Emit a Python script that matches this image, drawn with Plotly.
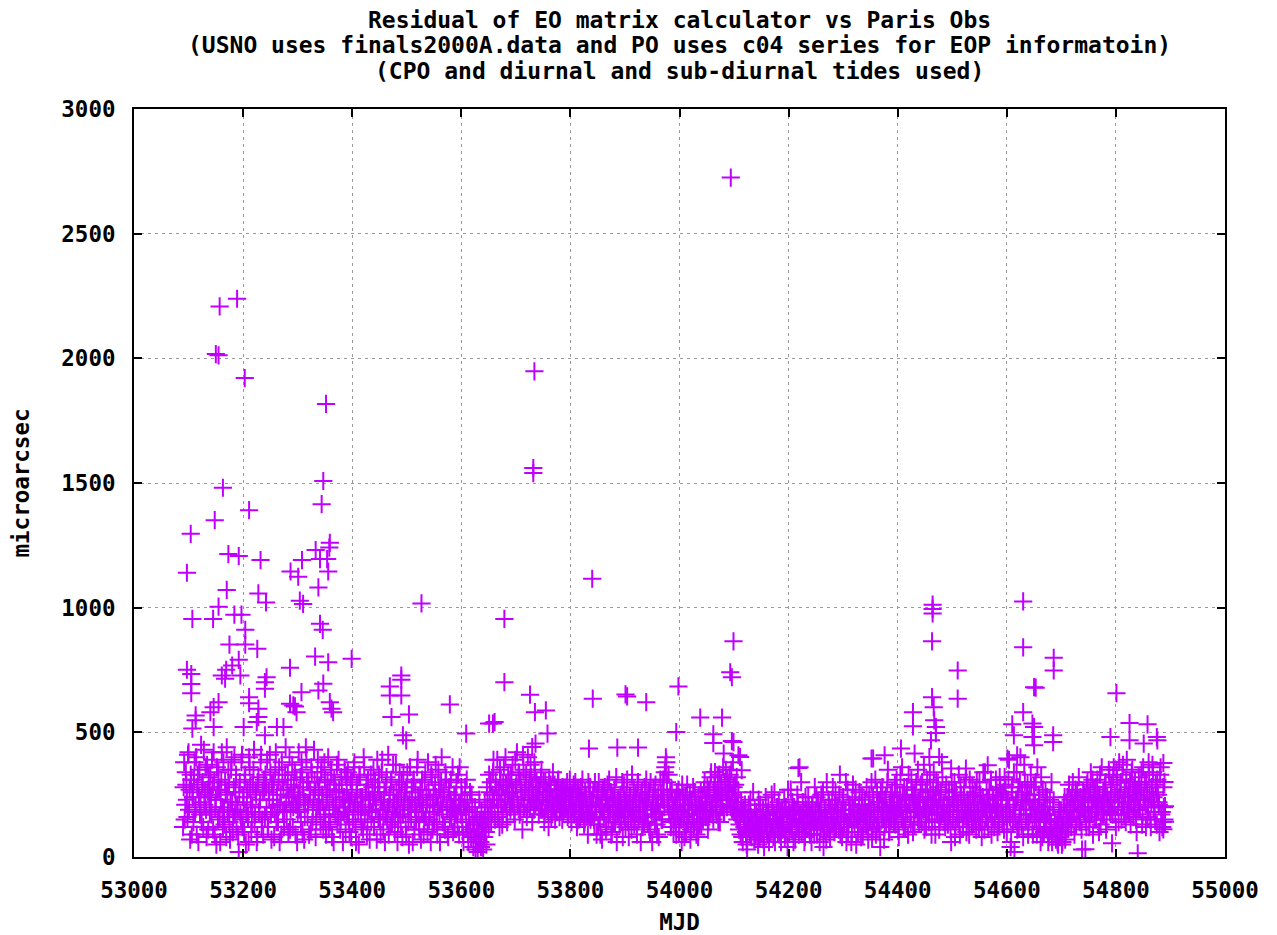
import plotly.graph_objects as go

# ---- data -----------------------------------------------------------------
title_lines = [
    "Residual of EO matrix calculator vs Paris Obs",
    "(USNO uses finals2000A.data and PO uses c04 series for EOP informatoin)",
    "(CPO and diurnal and sub-diurnal tides used)",
]
x_label = "MJD"
y_label = "microarcsec"
x_ticks = [53000, 53200, 53400, 53600, 53800, 54000, 54200, 54400, 54600, 54800, 55000]
y_ticks = [0, 500, 1000, 1500, 2000, 2500, 3000]

# bulk of the residuals, even days starting at MJD 53090
band_even_start = 53090
band_even = [
    120, 380, 210, 290, 160, 420, 270, 330, 90, 240, 310, 180, 400, 280, 60, 350, 220, 140, 300, 430, 260, 190, 370, 110, 250,
    330, 170, 280, 420, 90, 230, 360, 150, 270, 60, 310, 200, 380, 130, 250, 440, 180, 290, 70, 350, 220, 160, 400, 260, 110,
    190, 20, 300, 150, 410, 240, 100, 330, 180, 270, 60, 360, 210, 140, 290, 430, 170, 250, 80, 320, 200, 380, 120, 260, 310,
    160, 280, 390, 120, 230, 340, 70, 200, 300, 180, 420, 250, 140, 360, 210, 90, 310, 270, 190, 440, 150, 330, 240, 110, 290,
    370, 200, 260, 90, 310, 180, 420, 240, 140, 350, 280, 70, 220, 390, 160, 300, 250, 110, 340, 190, 430, 270, 150, 320, 210,
    280, 130, 360, 220, 170, 310, 90, 250, 400, 190, 140, 330, 240, 60, 290, 210, 370, 160, 270, 110, 320, 230, 180, 350, 100,
    260, 340, 150, 220, 80, 300, 190, 380, 130, 270, 210, 50, 320, 170, 240, 110, 360, 200, 290, 140, 250, 70, 330, 180, 230,
    120, 300, 210, 390, 160, 260, 90, 340, 190, 230, 60, 280, 150, 410, 220, 130, 310, 180, 250, 100, 370, 200, 140, 290, 170,
    240, 80, 330, 190, 120, 280, 210, 50, 360, 160, 230, 300, 110, 260, 180, 390, 140, 220, 70, 310, 200, 150, 340, 250, 100,
    270, 180, 60, 320, 210, 130, 290, 240, 90, 350, 170, 220, 400, 140, 260, 110, 310, 190, 80, 280, 230, 150, 360, 200, 120,
    250, 170, 330, 90, 210, 280, 140, 60, 230, 190, 310, 100, 150, 260, 80, 200, 40, 130, 30, 90, 20, 60, 150, 40, 110,
    30, 80, 170, 50, 210, 120, 260, 300, 180, 340, 230, 150, 280, 390, 200, 120, 310, 250, 170, 360, 220, 290, 140, 330, 260,
    190, 300, 370, 240, 150, 280, 420, 210, 330, 180, 260, 110, 350, 230, 290, 160, 400, 270, 200, 320, 140, 250, 380, 210, 300,
    230, 170, 280, 320, 190, 250, 140, 300, 210, 260, 120, 230, 290, 180, 340, 200, 150, 270, 220, 310, 160, 240, 200, 280, 190,
    250, 210, 300, 170, 230, 260, 140, 200, 290, 180, 240, 120, 270, 210, 160, 230, 310, 190, 140, 250, 200, 90, 170, 280, 220,
    180, 260, 130, 210, 90, 240, 300, 160, 200, 70, 270, 180, 230, 120, 290, 150, 210, 260, 100, 190, 240, 140, 320, 170, 220,
    130, 250, 190, 80, 280, 160, 220, 310, 140, 200, 240, 110, 180, 270, 150, 230, 90, 300, 210, 170, 250, 120, 200, 280, 160,
    220, 140, 260, 100, 190, 60, 240, 170, 290, 130, 210, 80, 180, 250, 150, 310, 200, 360, 380, 240, 330, 170, 120, 270, 190,
    150, 230, 90, 200, 270, 130, 180, 60, 250, 160, 210, 100, 290, 140, 190, 70, 230, 170, 120, 260, 200, 150, 80, 210, 180,
    130, 240, 190, 300, 160, 220, 110, 270, 180, 340, 210, 150, 280, 230, 170, 320, 250, 140, 290, 200, 360, 180, 260, 230, 310,
    270, 330, 200, 250, 380, 180, 290, 220, 150, 260, 130, 90, 180, 60, 140, 210, 100, 30, 170, 120, 230, 80, 150, 110, 190,
    90, 160, 50, 130, 210, 100, 170, 70, 140, 240, 110, 180, 60, 150, 120, 200, 80, 260, 130, 170, 100, 220, 140, 60, 190,
    120, 230, 90, 160, 40, 190, 140, 270, 110, 180, 200, 70, 150, 250, 130, 360, 170, 100, 220, 140, 80, 190, 160, 240, 110,
    170, 60, 200, 130, 280, 150, 90, 220, 180, 110, 250, 140, 40, 190, 160, 300, 120, 210, 80, 170, 230, 140, 100, 260, 150,
    200, 110, 330, 160, 80, 240, 140, 190, 60, 270, 130, 210, 170, 100, 290, 150, 230, 50, 180, 120, 260, 140, 200, 90, 170,
    230, 130, 180, 70, 250, 150, 300, 110, 200, 170, 90, 260, 140, 220, 40, 190, 280, 160, 120, 240, 180, 350, 100, 210, 150,
    260, 170, 220, 130, 310, 190, 80, 240, 200, 360, 150, 280, 120, 230, 180, 330, 210, 140, 270, 100, 250, 190, 300, 160, 220,
    180, 290, 140, 240, 370, 200, 120, 310, 230, 170, 260, 90, 210, 340, 150, 250, 190, 280, 110, 230, 170, 320, 200, 140, 260,
    210, 130, 270, 170, 60, 240, 190, 300, 120, 220, 160, 330, 90, 250, 180, 140, 280, 200, 100, 230, 160, 310, 190, 130, 250,
    170, 260, 110, 220, 190, 300, 140, 80, 240, 200, 340, 160, 230, 120, 270, 180, 90, 250, 210, 150, 310, 190, 240, 130, 280,
    200, 140, 260, 320, 180, 100, 230, 390, 160, 60, 280, 210, 20, 150, 340, 240, 120, 300, 190, 260, 80, 370, 220, 170, 290,
    140, 250, 330, 190, 90, 280, 210, 160, 360, 120, 230, 60, 180, 270, 100, 200, 140, 240, 60, 170, 110, 300, 90, 220, 150,
    70, 130, 50, 190, 80, 110, 60, 160, 240, 100, 200, 140, 290, 180, 120, 250, 210, 90, 270, 160, 230, 320, 140, 200, 30,
    260, 180, 220, 120, 300, 240, 160, 340, 200, 90, 270, 230, 150, 310, 190, 250, 130, 360, 220, 170, 280, 110, 240, 200, 330,
    230, 290, 170, 360, 250, 120, 310, 200, 380, 270, 150, 330, 220, 260, 140, 390, 240, 180, 300, 210, 350, 160, 280, 230, 100,
    250, 320, 190, 270, 130, 360, 230, 210, 300, 160, 380, 250, 120, 280, 340, 200, 150, 260, 310, 220, 100, 360, 180, 140, 200,
]

# bulk of the residuals, odd days starting at MJD 53091
band_odd_start = 53091
band_odd = [
    280, 150, 340, 230, 410, 190, 70, 310, 260, 140, 380, 200, 90, 330, 240, 170, 450, 290, 120, 210, 360, 80, 270, 320, 180,
    240, 390, 110, 300, 200, 50, 270, 340, 160, 230, 420, 120, 190, 300, 80, 260, 350, 140, 220, 390, 100, 280, 170, 330, 210,
    90, 260, 170, 380, 120, 220, 310, 50, 240, 160, 400, 280, 100, 200, 350, 140, 260, 60, 300, 180, 230, 410, 150, 90, 270,
    330, 200, 120, 260, 410, 170, 290, 230, 80, 350, 140, 210, 300, 60, 250, 380, 180, 120, 330, 220, 270, 100, 400, 190, 240,
    120, 280, 340, 210, 60, 250, 190, 320, 380, 100, 230, 160, 440, 300, 210, 90, 270, 360, 140, 230, 300, 80, 200, 390, 260,
    190, 340, 250, 110, 380, 160, 230, 300, 120, 270, 350, 80, 200, 310, 170, 260, 130, 390, 220, 150, 290, 60, 240, 200, 320,
    170, 230, 100, 310, 250, 140, 360, 220, 60, 290, 180, 330, 240, 120, 200, 400, 150, 260, 90, 310, 190, 230, 140, 280, 350,
    240, 190, 70, 280, 330, 150, 220, 390, 110, 260, 170, 320, 200, 90, 250, 300, 140, 370, 210, 160, 270, 60, 230, 340, 120,
    300, 170, 220, 260, 90, 340, 140, 230, 190, 280, 60, 310, 200, 150, 360, 240, 110, 270, 180, 230, 90, 300, 160, 210, 380,
    150, 230, 330, 110, 250, 180, 370, 140, 200, 270, 60, 300, 190, 240, 120, 340, 210, 90, 260, 160, 310, 200, 100, 250, 180,
    300, 120, 210, 360, 170, 250, 90, 200, 280, 140, 220, 60, 180, 110, 250, 140, 90, 200, 70, 160, 110, 230, 60, 180, 130,
    150, 220, 100, 280, 160, 330, 200, 140, 250, 390, 180, 300, 230, 160, 270, 350, 210, 130, 290, 230, 400, 180, 250, 310, 200,
    330, 220, 260, 180, 390, 290, 230, 340, 170, 300, 240, 410, 200, 270, 330, 190, 250, 310, 370, 230, 280, 190, 340, 260, 220,
    280, 240, 190, 350, 220, 300, 170, 260, 230, 190, 310, 270, 160, 240, 210, 290, 250, 180, 300, 230, 200, 270, 150, 240, 260,
    200, 280, 160, 240, 310, 190, 250, 220, 170, 300, 210, 260, 150, 240, 280, 180, 220, 130, 260, 210, 170, 300, 240, 150, 200,
    240, 150, 300, 180, 260, 130, 210, 90, 250, 190, 160, 280, 110, 230, 200, 310, 170, 90, 240, 140, 270, 200, 60, 230, 180,
    210, 140, 300, 170, 230, 120, 260, 190, 80, 240, 160, 330, 200, 130, 250, 180, 290, 150, 220, 60, 260, 190, 140, 230, 310,
    170, 240, 110, 300, 160, 210, 270, 130, 200, 90, 250, 180, 310, 150, 230, 270, 340, 400, 300, 210, 180, 260, 140, 220, 100,
    200, 120, 260, 170, 100, 230, 150, 290, 190, 80, 240, 130, 210, 170, 250, 110, 190, 280, 140, 220, 90, 170, 240, 130, 260,
    210, 150, 270, 220, 190, 280, 140, 240, 320, 200, 170, 260, 300, 190, 250, 140, 330, 210, 270, 240, 180, 300, 350, 200, 280,
    230, 300, 350, 190, 280, 240, 170, 320, 200, 110, 160, 220, 80, 190, 120, 170, 50, 140, 210, 90, 160, 130, 260, 70, 140,
    180, 110, 230, 80, 150, 120, 190, 40, 130, 170, 90, 210, 140, 100, 250, 130, 170, 60, 150, 200, 120, 90, 180, 140, 110,
    160, 80, 200, 140, 270, 100, 170, 130, 220, 60, 150, 190, 120, 210, 90, 170, 300, 130, 180, 60, 240, 120, 150, 200, 90,
    130, 210, 150, 90, 180, 240, 120, 170, 60, 200, 140, 260, 110, 180, 70, 150, 230, 100, 190, 130, 280, 160, 210, 120, 180,
    150, 250, 90, 190, 220, 120, 170, 300, 140, 100, 210, 160, 60, 230, 190, 120, 270, 150, 100, 210, 170, 80, 240, 140, 190,
    160, 280, 110, 210, 140, 190, 80, 240, 150, 310, 120, 180, 220, 100, 260, 150, 200, 70, 230, 140, 300, 170, 120, 250, 190,
    210, 140, 290, 170, 240, 110, 200, 330, 160, 250, 120, 230, 190, 280, 90, 210, 160, 310, 240, 180, 130, 270, 200, 350, 140,
    230, 160, 300, 190, 110, 260, 180, 240, 140, 330, 200, 150, 270, 220, 90, 300, 170, 230, 140, 260, 380, 180, 210, 120, 290,
    160, 240, 200, 110, 300, 150, 230, 80, 260, 180, 210, 140, 280, 190, 120, 250, 170, 320, 150, 210, 90, 240, 180, 280, 140,
    220, 150, 300, 180, 120, 250, 210, 160, 340, 110, 190, 270, 140, 230, 200, 310, 160, 240, 120, 210, 270, 100, 180, 320, 200,
    250, 170, 110, 290, 230, 150, 310, 200, 40, 260, 140, 340, 190, 230, 110, 280, 170, 400, 130, 230, 190, 300, 150, 250, 90,
    230, 170, 280, 110, 220, 150, 300, 90, 200, 250, 140, 320, 80, 190, 150, 260, 110, 170, 80, 230, 140, 60, 200, 120, 100,
    110, 60, 150, 90, 180, 50, 130, 210, 70, 170, 240, 120, 190, 230, 150, 300, 180, 220, 130, 260, 190, 150, 240, 110, 200,
    190, 250, 140, 290, 200, 120, 260, 180, 310, 230, 150, 280, 200, 240, 100, 330, 210, 170, 260, 200, 300, 150, 230, 350, 180,
    260, 190, 320, 220, 170, 350, 260, 140, 240, 300, 200, 370, 170, 250, 310, 190, 280, 220, 130, 340, 260, 200, 300, 150, 270,
    190, 290, 230, 340, 170, 240, 300, 120, 260, 200, 330, 150, 220, 370, 240, 180, 290, 130, 250, 210, 330, 170, 120, 280, 150,
]

# larger residuals
outlier_mjd = [
    53097, 53104, 53157, 53189, 53150, 53155, 53203, 53352, 53163, 53347, 53344, 53211, 53148, 53173, 53192,
    53232, 53308, 53333, 53359, 53358, 53341, 53354, 53356, 53287, 53301,
    53170, 53228, 53242, 53155, 53107, 53145, 53184, 53197, 53204, 53175, 53204, 53226, 53286, 53192, 53180,
    53169, 53097, 53105, 53105, 53105, 53243, 53240, 53240, 53161, 53167, 53195, 53211, 53211, 53286, 53295,
    53298, 53155, 53146, 53140, 53113, 53113, 53228, 53228, 53225, 53146, 53201, 53107, 53262, 53274, 53240,
    53338, 53304, 53310, 53527, 53341, 53346, 53332, 53356, 53399, 53347, 53338, 53307, 53469, 53469, 53490,
    53490, 53490, 53359, 53362, 53365, 53292, 53579, 53472, 53504, 53493, 53499, 53609, 53651,
    53734, 53732, 53732, 53840, 54094,
    53679, 53679, 53726, 53735, 53755, 53658, 53661, 53758, 53841, 53901, 53904, 53939, 53998, 53886, 53924,
    53834, 53736, 53730, 53994,
    54099, 54093, 54096, 54038, 54078, 54062, 54062, 54096, 54099, 54081, 54108, 54111, 54065, 54114, 54218, 54352,
    54464, 54464, 54464, 54463, 54510, 54510, 54630, 54630, 54686, 54686, 54650, 54653, 54463, 54466, 54467,
    54470, 54470, 54428, 54428, 54461, 54630, 54610, 54613, 54647, 54650, 54647, 54650, 54685, 54685, 54355,
    54376, 54406, 54431, 54458, 54476, 54498, 54525, 54565, 54601, 54619,
    54801, 54825, 54858, 54790, 54825, 54851, 54875, 54876, 54887, 54889, 54890, 54890, 54887, 54744, 54793, 54840,
]
outlier_val = [
    1140, 1296, 2208, 2239, 2017, 2012, 1921, 1817, 1481, 1508, 1415, 1391, 1351, 1215, 1207,
    1191, 1191, 1231, 1260, 1241, 1195, 1195, 1145, 1145, 1124,
    1071, 1057, 1021, 1004, 955, 955, 972, 972, 911, 852, 852, 835, 759, 791, 768,
    751, 751, 734, 694, 657, 721, 701, 675, 728, 715, 728, 641, 617, 615, 604,
    581, 621, 601, 581, 568, 548, 595, 561, 541, 521, 521, 515, 521, 521, 488,
    1081, 1028, 1015, 1017, 935, 911, 804, 781, 795, 695, 668, 661, 684, 648, 728,
    711, 648, 621, 595, 581, 608, 612, 561, 572, 488, 468, 495, 535,
    1948, 1560, 1540, 1116, 2725,
    955, 701, 651, 581, 588, 535, 541, 495, 635, 652, 644, 621, 684, 439, 439,
    435, 455, 441, 501,
    865, 741, 721, 559, 559, 492, 457, 465, 461, 415, 408, 401, 341, 348, 357, 395,
    1012, 995, 977, 865, 748, 635, 1025, 841, 799, 748, 681, 679, 641, 601, 548,
    521, 497, 581, 524, 468, 581, 532, 488, 535, 521, 481, 448, 488, 461, 395,
    408, 435, 415, 401, 401, 355, 355, 368, 395, 408,
    657, 537, 532, 481, 468, 455, 481, 468, 377, 301, 204, 141, 111, 31, 55, 15,
]

# ---- figure ---------------------------------------------------------------
even_mjd = [band_even_start + 2 * i for i in range(len(band_even))]
odd_mjd = [band_odd_start + 2 * i for i in range(len(band_odd))]
all_mjd = even_mjd + odd_mjd + outlier_mjd
all_val = band_even + band_odd + outlier_val

FONT = "DejaVu Sans Mono"
PURPLE = "#C000FF"
TICK_FONT = dict(family=FONT, size=22.5, color="black", weight="bold")
TITLE_FONT = dict(family=FONT, size=23, color="black", weight="bold")

fig = go.Figure()
fig.add_trace(go.Scatter(
    x=all_mjd, y=all_val, mode="markers",
    marker=dict(symbol="cross-thin", size=13, color=PURPLE,
                line=dict(color=PURPLE, width=2)),
    showlegend=False, hoverinfo="x+y",
))

axis_common = dict(
    showgrid=True, gridcolor="#9a9a9a", gridwidth=1, griddash="3px,4px",
    showline=True, linecolor="black", linewidth=2, mirror="allticks",
    ticks="inside", ticklen=8, tickwidth=2, tickcolor="black",
    zeroline=False,
    tickfont=TICK_FONT,
)

fig.update_xaxes(range=[53000, 55000], tickvals=x_ticks,
                 ticktext=[str(v) for v in x_ticks],
                 title=dict(text=x_label, standoff=12, font=TICK_FONT),
                 ticklabelstandoff=12,
                 **axis_common)
fig.update_yaxes(range=[0, 3000], tickvals=y_ticks,
                 ticktext=[str(v) for v in y_ticks],
                 title=dict(text=y_label, standoff=26, font=TICK_FONT),
                 ticklabelstandoff=12,
                 **axis_common)

# page body has an 8px margin, so figure coordinates are screen minus 8
top_px, bottom_px = 101, 853
plot_h = bottom_px - top_px
title_y_px = [12, 37, 63]
annotations = [
    dict(text=t, xref="paper", yref="paper", x=0.5,
         y=1 + (top_px - py) / plot_h, xanchor="center", yanchor="middle",
         showarrow=False, font=TITLE_FONT)
    for t, py in zip(title_lines, title_y_px)
]

fig.update_layout(
    width=1277, height=935,
    margin=dict(l=122, r=60, t=top_px, b=935 - bottom_px),
    plot_bgcolor="white", paper_bgcolor="white",
    annotations=annotations,
    font=dict(family=FONT, color="black"),
)

fig.write_html("out.html")
